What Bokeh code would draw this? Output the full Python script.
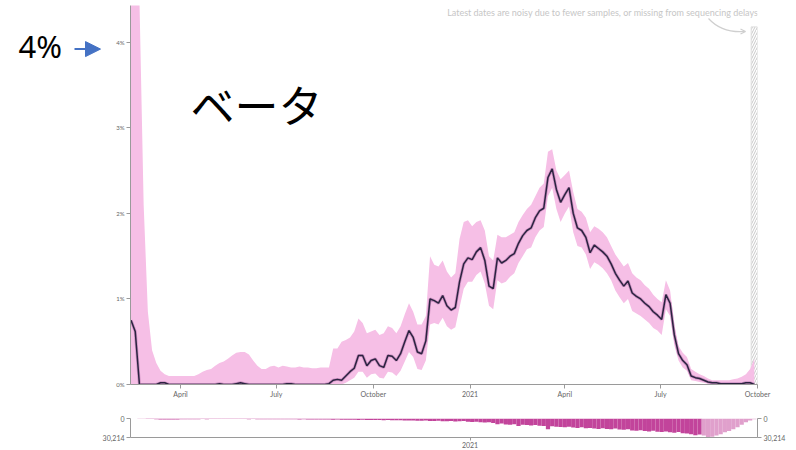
import pandas as pd
from bokeh.plotting import figure
from bokeh.layouts import column, row
from bokeh.models import (Range1d, FixedTicker, LinearAxis, Label, Arrow,
                          NormalHead, OpenHead, CustomJSTickFormatter, ColumnDataSource)
from bokeh.embed import file_html
from bokeh.resources import INLINE

# Beta share of sequenced samples (%), one reading every 4 days from 2020-02-14
beta_share = [
    0.75, 0.62, 0, 0, 0, 0, 0, 0.02, 0.02, 0,
    0, 0, 0, 0, 0, 0, 0, 0, 0, 0,
    0, 0.01, 0, 0, 0, 0.01, 0.02, 0.01, 0, 0,
    0, 0, 0, 0, 0, 0, 0, 0.01, 0.01, 0,
    0, 0, 0, 0, 0, 0, 0, 0.01, 0.05, 0.06,
    0.05, 0.1, 0.15, 0.19, 0.34, 0.34, 0.22, 0.28, 0.3, 0.22,
    0.2, 0.34, 0.33, 0.28, 0.36, 0.5, 0.63, 0.55, 0.38, 0.36,
    0.51, 1.0, 0.98, 0.95, 1.04, 0.92, 0.87, 0.9, 1.2, 1.41,
    1.48, 1.46, 1.55, 1.6, 1.45, 1.15, 1.12, 1.48, 1.42, 1.45,
    1.5, 1.53, 1.65, 1.74, 1.8, 1.83, 1.95, 2.03, 2.06, 2.42,
    2.52, 2.28, 2.13, 2.22, 2.3, 2.0, 1.83, 1.8, 1.72, 1.54,
    1.63, 1.59, 1.55, 1.5, 1.41, 1.3, 1.22, 1.15, 1.21, 1.07,
    1.03, 1.0, 0.95, 0.91, 0.85, 0.81, 0.76, 1.05, 0.95, 0.58,
    0.36, 0.28, 0.23, 0.1, 0.08, 0.07, 0.05, 0.03, 0.02, 0.02,
    0.01, 0.01, 0.01, 0.01, 0.01, 0.01, 0.02, 0.02, 0.0,
]

# Confidence band, lower and upper bounds (%)
beta_lo = [
    0, 0, 0, 0, 0, 0, 0, 0, 0, 0,
    0, 0, 0, 0, 0, 0, 0, 0, 0, 0,
    0, 0, 0, 0, 0, 0, 0, 0, 0, 0,
    0, 0, 0, 0, 0, 0, 0, 0, 0, 0,
    0, 0, 0, 0, 0, 0, 0, 0, 0.0, 0.0,
    0.0, 0.02, 0.05, 0.08, 0.15, 0.15, 0.08, 0.12, 0.13, 0.08,
    0.07, 0.15, 0.14, 0.1, 0.16, 0.27, 0.38, 0.32, 0.18, 0.17,
    0.28, 0.7, 0.72, 0.7, 0.78, 0.68, 0.64, 0.67, 0.9, 1.12,
    1.2, 1.2, 1.28, 1.32, 1.18, 0.92, 0.88, 1.22, 1.18, 1.2,
    1.26, 1.3, 1.42, 1.5, 1.58, 1.6, 1.72, 1.8, 1.84, 2.2,
    2.3, 2.05, 1.9, 2.0, 2.08, 1.78, 1.62, 1.6, 1.52, 1.35,
    1.43, 1.4, 1.36, 1.3, 1.22, 1.1, 1.02, 0.95, 1.0, 0.86,
    0.83, 0.8, 0.76, 0.72, 0.66, 0.63, 0.58, 0.88, 0.8, 0.46,
    0.28, 0.2, 0.16, 0.05, 0.04, 0.03, 0.02, 0.01, 0, 0,
    0, 0, 0, 0, 0, 0, 0, 0, 0,
]
beta_hi = [
    5.0, 5.0, 4.5, 2.1, 0.85, 0.4, 0.25, 0.16, 0.12, 0.1,
    0.1, 0.1, 0.1, 0.1, 0.1, 0.1, 0.12, 0.15, 0.17, 0.18,
    0.22, 0.25, 0.27, 0.3, 0.34, 0.37, 0.38, 0.38, 0.35, 0.28,
    0.22, 0.18, 0.18, 0.21, 0.22, 0.2, 0.22, 0.21, 0.2, 0.2,
    0.21, 0.2, 0.2, 0.19, 0.19, 0.2, 0.2, 0.2, 0.42, 0.42,
    0.5, 0.52, 0.55, 0.62, 0.77, 0.72, 0.6, 0.62, 0.64, 0.58,
    0.6, 0.68, 0.66, 0.6, 0.68, 0.82, 0.95, 0.85, 0.7, 0.7,
    0.8, 1.5, 1.4, 1.38, 1.45, 1.32, 1.25, 1.3, 1.7, 1.9,
    1.92, 1.85, 1.9, 1.92, 1.8, 1.5, 1.45, 1.75, 1.72, 1.72,
    1.75, 1.78, 1.9, 1.98, 2.05, 2.1, 2.2, 2.3, 2.35, 2.72,
    2.75, 2.5, 2.4, 2.45, 2.5, 2.25, 2.05, 2.02, 1.95, 1.78,
    1.85, 1.82, 1.78, 1.72, 1.62, 1.52, 1.45, 1.38, 1.42, 1.3,
    1.25, 1.22, 1.16, 1.12, 1.05, 1.0, 0.96, 1.22, 1.1, 0.7,
    0.45, 0.37, 0.32, 0.18, 0.15, 0.12, 0.1, 0.07, 0.05, 0.05,
    0.05, 0.05, 0.05, 0.06, 0.07, 0.09, 0.12, 0.18, 0.3,
]

# Number of sequenced samples in each 4-day window
samples = [
    0, 0, 200, 300, 600, 800, 1200, 1400, 1500, 1600,
    1500, 1400, 1300, 1200, 1000, 1100, 1000, 900, 1000, 900,
    800, 900, 800, 900, 800, 900, 800, 900, 1000, 900,
    1000, 1100, 1000, 1100, 1200, 1100, 1200, 1300, 1200, 1300,
    1400, 1300, 1400, 1500, 1400, 1600, 1500, 1700, 1800, 1700,
    1900, 2000, 1900, 2100, 2200, 2000, 2300, 2400, 2200, 2500,
    2600, 2400, 2800, 2900, 2700, 3000, 3200, 3000, 3400, 3500,
    3300, 3800, 4000, 3600, 4200, 4400, 4000, 4600, 4200, 3800,
    5000, 5600, 5200, 6000, 6400, 6000, 7000, 9000, 8000, 9500,
    10000, 9000, 12000, 10000, 10500, 11000, 10500, 11500, 12000, 17000,
    12500, 13000, 13500, 14000, 13000, 14500, 15000, 14000, 15500, 15000,
    16000, 16500, 15500, 16500, 17000, 16000, 17500, 18000, 17000, 19000,
    19500, 18500, 20000, 20500, 19500, 21000, 21500, 20500, 22000, 22500,
    21500, 23500, 24000, 25000, 26500, 25500, 27000, 30214, 29000, 27000,
    25000, 22000, 20000, 17000, 14000, 10000, 6000, 3000, 1000,
]

first_day = "2020-02-14"
step_days = 4
sample_max = 30214

tick_dates = ["2020-04-01", "2020-07-01", "2020-10-01", "2021-01-01",
              "2021-04-01", "2021-07-01", "2021-10-01"]
tick_labels = ["April", "July", "October", "2021", "April", "July", "October"]
mini_tick_dates = ["2021-01-01"]
mini_tick_labels = ["2021"]
pct_ticks = [0, 1, 2, 3, 4]

x_start = pd.Timestamp("2020-02-13 12:00")
x_end = pd.Timestamp("2021-10-01")
noisy_from = pd.Timestamp("2021-09-25")
y_max = 4.43
hatch_top = 4.18

FONT = "Lato"
AXIS_GREY = "#9a9a9a"
LABEL_GREY = "#666666"
BAND = "#f6bfe6"
LINE = "#2b2340"
BAR = "#c2449b"
BAR_LIGHT = "#e0a0cc"

dates = pd.date_range(first_day, periods=len(beta_share), freq=f"{step_days}D")
src = ColumnDataSource(dict(date=dates, share=beta_share, lo=beta_lo, hi=beta_hi))

# page geometry: a 106px callout strip, then the chart whose frame spans x 130..757
CALLOUT_W = 106
FL, FW, FT, FH = 130, 627, 5, 379


def sx(px):
    return (x_start + (px - FL) / FW * (x_end - x_start)).timestamp() * 1000


def sy(py):
    return (FT + FH - py) / FH * y_max


def ms(d):
    return pd.Timestamp(d).timestamp() * 1000


tick_ms = [ms(d) for d in tick_dates]
mini_tick_ms = [ms(d) for d in mini_tick_dates]

label_js = """
const i = tick_vals.indexOf(tick);
return i >= 0 ? tick_names[i] : '';
"""


def style_axis(ax, size="7px"):
    ax.axis_line_color = AXIS_GREY
    ax.major_tick_line_color = AXIS_GREY
    ax.minor_tick_line_color = None
    ax.major_label_text_color = LABEL_GREY
    ax.major_label_text_font = FONT
    ax.major_label_text_font_size = size


# ---- callout strip on the left, in page pixels (y grows downward) ----
c = figure(width=CALLOUT_W, height=400, x_range=Range1d(0, CALLOUT_W), y_range=Range1d(400, 0),
           min_border=0, output_backend="svg", toolbar_location=None)
c.axis.visible = False
c.grid.visible = False
c.outline_line_color = None
c.add_layout(Label(x=18, y=43, text="4%", text_align="left", text_baseline="middle",
                   text_font="Noto Sans", text_font_size="31px", text_color="black"))
c.add_layout(Arrow(end=NormalHead(size=15, fill_color="#4472C4", line_color="#4472C4"),
                   x_start=74, y_start=46, x_end=100, y_end=46,
                   line_color="#4472C4", line_width=2))

# ---- main panel: share over time ----
p = figure(width=796 - CALLOUT_W, height=400, x_axis_type="datetime",
           x_range=Range1d(x_start, x_end), y_range=Range1d(0, y_max),
           min_border_left=FL - CALLOUT_W, min_border_right=796 - FL - FW,
           min_border_top=FT, min_border_bottom=16,
           output_backend="svg", toolbar_location=None)
p.outline_line_color = None
p.grid.visible = False
p.background_fill_color = "white"

# hatched strip for the most recent, incomplete dates
p.quad(left=[noisy_from], right=[x_end], bottom=[0], top=[hatch_top],
       fill_color="white", fill_alpha=0, line_color="#dddddd", line_width=1,
       hatch_pattern="/", hatch_color="#c9c9c9", hatch_scale=5, hatch_weight=1)

p.varea(x="date", y1="lo", y2="hi", source=src, fill_color=BAND, fill_alpha=1)
p.line(x="date", y="share", source=src, line_color="#8e4c8c", line_width=3.0, line_alpha=0.4)
p.line(x="date", y="share", source=src, line_color=LINE, line_width=1.5)

p.xaxis.ticker = FixedTicker(ticks=tick_ms)
p.xaxis.formatter = CustomJSTickFormatter(args=dict(tick_vals=tick_ms, tick_names=tick_labels), code=label_js)
p.xaxis.major_tick_out = 4
p.xaxis.major_tick_in = 0
p.xaxis.major_label_standoff = 1
style_axis(p.xaxis[0])

p.yaxis.ticker = FixedTicker(ticks=pct_ticks)
p.yaxis.formatter = CustomJSTickFormatter(code="return tick + '%';")
p.yaxis.major_tick_out = 4
p.yaxis.major_tick_in = 0
p.yaxis.major_label_standoff = 2
style_axis(p.yaxis[0], "6px")

p.add_layout(Label(x=sx(758), y=sy(12), text="Latest dates are noisy due to fewer samples, or missing from sequencing delays",
                   text_align="right", text_baseline="middle", text_font=FONT,
                   text_font_size="9px", text_color="#c6c6c6"))
p.bezier(x0=[sx(708)], y0=[sy(18)], x1=[sx(744)], y1=[sy(31)],
         cx0=[sx(718)], cy0=[sy(29)], cx1=[sx(730)], cy1=[sy(32)],
         line_color="#cfcfcf", line_width=1.2)
p.add_layout(Arrow(end=OpenHead(size=5, line_color="#cfcfcf", line_width=1.2),
                   x_start=sx(739), y_start=sy(31), x_end=sx(745), y_end=sy(31),
                   line_color="#cfcfcf", line_width=1.2))
p.add_layout(Label(x=sx(190), y=sy(103), text="ベータ", text_align="left", text_baseline="middle",
                   text_font="Noto Sans CJK JP", text_font_size="44px", text_color="black"))

# ---- lower panel: samples per window, hanging from the top ----
bar_colors = [BAR_LIGHT if d >= pd.Timestamp("2021-08-08") else BAR for d in dates]
msrc = ColumnDataSource(dict(date=dates, n=samples, zero=[0] * len(samples), color=bar_colors))

m = figure(width=796, height=50, x_axis_type="datetime",
           x_range=p.x_range, y_range=Range1d(sample_max, 0),
           min_border_left=FL, min_border_right=796 - FL - FW,
           min_border_top=18, min_border_bottom=12,
           output_backend="svg", toolbar_location=None)
m.outline_line_color = None
m.grid.visible = False
m.vbar(x="date", top="zero", bottom="n", width=step_days * 86400000,
       fill_color="color", line_color=None, source=msrc)

m.xaxis.ticker = FixedTicker(ticks=mini_tick_ms)
m.xaxis.formatter = CustomJSTickFormatter(args=dict(tick_vals=mini_tick_ms, tick_names=mini_tick_labels), code=label_js)
m.xaxis.major_tick_out = 3
m.xaxis.major_tick_in = 0
m.xaxis.major_label_standoff = 1
style_axis(m.xaxis[0])

count_js = "return tick == 0 ? '0' : Math.round(tick).toLocaleString('en-US');"
m.yaxis.ticker = FixedTicker(ticks=[0, sample_max])
m.yaxis.formatter = CustomJSTickFormatter(code=count_js)
m.yaxis.major_tick_out = 4
m.yaxis.major_tick_in = 0
m.yaxis.major_label_standoff = 2
style_axis(m.yaxis[0])

right = LinearAxis(ticker=FixedTicker(ticks=[0, sample_max]), formatter=CustomJSTickFormatter(code=count_js))
right.major_tick_out = 4
right.major_tick_in = 0
right.major_label_standoff = 2
style_axis(right)
m.add_layout(right, "right")

page = column(row(c, p, spacing=0), m, spacing=0)
open("out.html", "w").write(file_html(page, INLINE))
